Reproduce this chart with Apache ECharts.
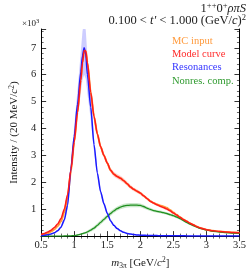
<!DOCTYPE html>
<html>
<head>
<meta charset="utf-8">
<script src="https://cdn.jsdelivr.net/npm/echarts@6/dist/echarts.min.js"></script>
<style>html,body{margin:0;padding:0;background:#fff;}#c{width:249px;height:275px;}</style>
</head>
<body>
<div id="c"></div>
<script>
const mass = [0.50,0.55,0.60,0.65,0.70,0.75,0.80,0.85,0.90,0.95,1.00,1.05,1.10,1.125,1.15,1.175,1.20,1.25,1.30,1.35,1.40,1.45,1.50,1.55,1.60,1.65,1.70,1.75,1.80,1.85,1.90,1.95,2.00,2.05,2.10,2.15,2.20,2.25,2.30,2.35,2.40,2.45,2.50,2.55,2.60,2.65,2.70,2.75,2.80,2.85,2.90,2.95,3.00,3.10,3.20,3.30,3.40,3.50];
const modelCurve = [0.06,0.10,0.15,0.22,0.32,0.45,0.65,1.00,1.55,2.45,3.50,4.60,5.80,6.45,6.90,6.88,6.45,5.35,4.45,3.80,3.32,3.00,2.72,2.45,2.30,2.22,2.15,2.06,1.95,1.83,1.74,1.67,1.60,1.50,1.40,1.30,1.23,1.17,1.11,1.06,1.01,0.94,0.86,0.78,0.70,0.62,0.55,0.48,0.42,0.36,0.31,0.27,0.24,0.20,0.17,0.15,0.13,0.12];
const mcInput = [0.04,0.07,0.11,0.17,0.25,0.37,0.55,0.88,1.45,2.40,3.50,4.60,5.80,6.45,6.90,6.88,6.45,5.35,4.45,3.80,3.32,3.00,2.72,2.45,2.30,2.22,2.15,2.06,1.95,1.83,1.74,1.67,1.60,1.50,1.40,1.30,1.23,1.18,1.14,1.10,1.05,0.97,0.88,0.79,0.70,0.62,0.55,0.48,0.42,0.36,0.31,0.27,0.24,0.20,0.17,0.15,0.13,0.12];
const resonances = [0.015,0.03,0.05,0.08,0.12,0.20,0.33,0.60,1.15,2.50,3.70,4.90,6.10,6.70,7.00,6.75,6.00,4.80,3.40,2.35,1.65,1.20,0.85,0.57,0.40,0.28,0.20,0.14,0.10,0.075,0.06,0.045,0.035,0.03,0.025,0.02,0.02,0.018,0.016,0.015,0.013,0.012,0.011,0.01,0.01,0.009,0.008,0.008,0.007,0.007,0.006,0.006,0.005,0.005,0.004,0.004,0.003,0.003];
const nonres = [0,0,0,0,0,0,0,0.003,0.006,0.01,0.02,0.04,0.07,0.09,0.11,0.13,0.16,0.22,0.30,0.40,0.51,0.62,0.73,0.84,0.94,1.02,1.08,1.12,1.14,1.15,1.15,1.15,1.14,1.10,1.04,0.99,0.95,0.92,0.90,0.87,0.84,0.80,0.76,0.71,0.65,0.58,0.51,0.45,0.39,0.34,0.29,0.26,0.23,0.18,0.15,0.13,0.11,0.10];
const modelErr = [0.01,0.01,0.02,0.02,0.03,0.03,0.04,0.05,0.06,0.07,0.08,0.09,0.10,0.10,0.10,0.10,0.10,0.09,0.08,0.08,0.08,0.08,0.08,0.08,0.09,0.09,0.09,0.09,0.08,0.08,0.07,0.07,0.06,0.06,0.05,0.05,0.05,0.05,0.05,0.05,0.05,0.05,0.05,0.04,0.04,0.04,0.04,0.03,0.03,0.03,0.03,0.03,0.02,0.02,0.02,0.02,0.02,0.02];
const resErr = [0.01,0.01,0.01,0.02,0.02,0.03,0.05,0.08,0.14,0.25,0.36,0.52,0.75,0.90,1.00,0.90,0.70,0.45,0.26,0.15,0.10,0.07,0.05,0.04,0.03,0.03,0.02,0.02,0.02,0.01,0.01,0.01,0.01,0.01,0.01,0.01,0.01,0.01,0.01,0.01,0.01,0.01,0.01,0.01,0.01,0.01,0.01,0.01,0.01,0.01,0.01,0.01,0.01,0.01,0.01,0.01,0.01,0.01];
const nonresErr = [0,0,0,0,0,0,0,0.002,0.004,0.006,0.01,0.02,0.03,0.035,0.04,0.045,0.05,0.06,0.07,0.075,0.08,0.08,0.08,0.08,0.08,0.08,0.08,0.08,0.08,0.08,0.08,0.08,0.07,0.07,0.06,0.06,0.05,0.05,0.05,0.05,0.05,0.05,0.05,0.05,0.04,0.04,0.04,0.04,0.03,0.03,0.03,0.03,0.03,0.02,0.02,0.02,0.02,0.02];
const xTicks = {min:0.5, max:3.5, interval:0.5};
const yTicks = {min:0, max:7.7, interval:1};

const SERIF = '"Liberation Serif", "DejaVu Serif", serif';
function pairs(v){ return mass.map((m,i)=>[m, v[i]]); }
function bandSeries(name, vals, errs, color){
  return {
    name:name, type:'custom', coordinateSystem:'cartesian2d', clip:true, silent:true, z:1,
    data:[[mass[0], vals[0]]],
    renderItem:function(params, api){
      const up = mass.map((m,i)=>api.coord([m, vals[i]+errs[i]]));
      const dn = mass.map((m,i)=>api.coord([m, Math.max(0, vals[i]-errs[i])])).reverse();
      return {type:'polygon', shape:{points:up.concat(dn), smooth:0}, style:{fill:color}};
    }
  };
}
function lineSeries(name, vals, color, w){
  return {name:name, type:'line', data:pairs(vals), symbol:'none', smooth:0.25, smoothMonotone:'x',
          lineStyle:{color:color, width:w}, z:3};
}
const chart = echarts.init(document.getElementById('c'), null, {renderer:'canvas'});
const tickStyle = {show:true, inside:true, length:5, lineStyle:{color:'#000', width:0.8}};
const minorStyle = {show:true, splitNumber:5, length:2.5, lineStyle:{color:'#000', width:0.6}};
chart.setOption({
  animation:false,
  backgroundColor:'#fff',
  grid:{left:22, right:3, top:29, bottom:26},
  xAxis:[
    {type:'value', min:xTicks.min, max:xTicks.max, interval:xTicks.interval, position:'bottom',
     axisLine:{show:true, lineStyle:{color:'#000', width:1}}, axisTick:tickStyle, minorTick:minorStyle,
     splitLine:{show:false},
     axisLabel:{fontFamily:SERIF, fontSize:10.5, color:'#222', margin:4},
     name:'{i|m}{s|3π} [GeV/{i|c}{p|2}]', nameLocation:'middle', nameGap:14,
     nameTextStyle:{fontFamily:SERIF, fontSize:11, color:'#222',
       rich:{i:{fontFamily:SERIF, fontStyle:'italic', fontSize:11, color:'#222'},
             s:{fontFamily:SERIF, fontSize:7.5, verticalAlign:'bottom', padding:[6,0,0,0], color:'#222'},
             p:{fontFamily:SERIF, fontSize:7.5, verticalAlign:'top', padding:[0,0,5,0], color:'#222'}}}},
    {type:'value', min:xTicks.min, max:xTicks.max, interval:xTicks.interval, position:'top',
     axisLine:{show:true, lineStyle:{color:'#000', width:1}}, axisTick:tickStyle, minorTick:minorStyle,
     splitLine:{show:false}, axisLabel:{show:false}}
  ],
  yAxis:[
    {type:'value', min:yTicks.min, max:yTicks.max, interval:yTicks.interval, position:'left',
     axisLine:{show:true, lineStyle:{color:'#000', width:1}}, axisTick:tickStyle, minorTick:minorStyle,
     splitLine:{show:false},
     axisLabel:{fontFamily:SERIF, fontSize:10.5, color:'#222', margin:5, showMaxLabel:false,
       formatter:v=> (v>0 && Number.isInteger(v)) ? String(v) : ''},
     name:'Intensity / (20 MeV/{i|c}{p|2})', nameLocation:'middle', nameGap:11, nameRotate:90,
     nameTextStyle:{fontFamily:SERIF, fontSize:11, color:'#222',
       rich:{i:{fontFamily:SERIF, fontStyle:'italic', fontSize:11, color:'#222'},
             p:{fontFamily:SERIF, fontSize:7.5, verticalAlign:'top', padding:[0,0,5,0], color:'#222'}}}},
    {type:'value', min:yTicks.min, max:yTicks.max, interval:yTicks.interval, position:'right',
     axisLine:{show:true, lineStyle:{color:'#000', width:1}}, axisTick:tickStyle, minorTick:minorStyle,
     splitLine:{show:false}, axisLabel:{show:false}}
  ],
  graphic:[
    {type:'text', right:3, top:1, style:{text:'{n|1}{sp|++}{n|0}{sp|+}{i|ρπS}', fill:'#222',
      rich:{n:{fontFamily:SERIF, fontSize:12.5, fill:'#222'},
            i:{fontFamily:SERIF, fontStyle:'italic', fontSize:12.5, fill:'#222'},
            sp:{fontFamily:SERIF, fontSize:8.5, fill:'#222', verticalAlign:'top', padding:[0,0,6,0]}}}},
    {type:'text', right:3, top:13, style:{text:'{n|0.100 < }{i|t′}{n| < 1.000 (GeV/}{i|c}{n|)}{sp|2}', fill:'#222',
      rich:{n:{fontFamily:SERIF, fontSize:12.5, fill:'#222'},
            i:{fontFamily:SERIF, fontStyle:'italic', fontSize:12.5, fill:'#222'},
            sp:{fontFamily:SERIF, fontSize:8.5, fill:'#222', verticalAlign:'top', padding:[0,0,6,0]}}}},
    {type:'text', left:22, top:18, style:{text:'×10{sp|3}', fontFamily:SERIF, fontSize:9, fill:'#222',
      rich:{sp:{fontFamily:SERIF, fontSize:6.5, fill:'#222', verticalAlign:'top', padding:[0,0,4,0]}}}},
    {type:'text', left:172, top:36, style:{text:'MC input', fontFamily:SERIF, fontSize:10.5, fill:'#ff9a3c'}},
    {type:'text', left:172, top:49, style:{text:'Model curve', fontFamily:SERIF, fontSize:10.5, fill:'#ff2a2a'}},
    {type:'text', left:172, top:62, style:{text:'Resonances', fontFamily:SERIF, fontSize:10.5, fill:'#3434ff'}},
    {type:'text', left:172, top:76, style:{text:'Nonres. comp.', fontFamily:SERIF, fontSize:10.5, fill:'#2e9a2e'}}
  ],
  series:[
    bandSeries('res', resonances, resErr, 'rgba(90,90,255,0.3)'),
    bandSeries('model', modelCurve, modelErr, 'rgba(255,70,70,0.25)'),
    bandSeries('nonres', nonres, nonresErr, 'rgba(40,160,40,0.25)'),
    lineSeries('MC input', mcInput, '#ff9a3c', 2),
    lineSeries('Nonres. comp.', nonres, '#1f8f1f', 1.3),
    lineSeries('Resonances', resonances, '#1a1aff', 1.5),
    lineSeries('Model curve', modelCurve, '#ff1a1a', 1.5)
  ]
});
</script>
</body>
</html>
